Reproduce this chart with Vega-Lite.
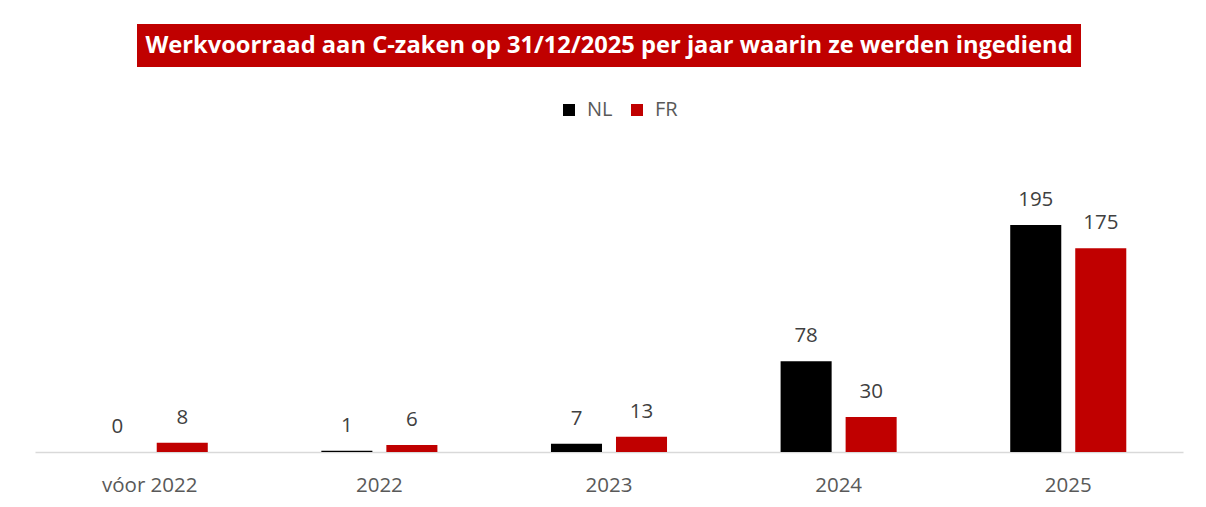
{
  "$schema": "https://vega.github.io/schema/vega-lite/v6.json",
  "background": "white",
  "padding": {"left": 35, "top": 24, "right": 20, "bottom": 0},
  "config": {"view": {"stroke": null}, "font": "Open Sans"},
  "center": true,
  "spacing": 33,
  "resolve": {"legend": {"color": "independent"}},
  "vconcat": [
    {
      "width": 944,
      "height": 43,
      "view": {"fill": "#C00000", "stroke": null},
      "data": {"values": [{"titel": "Werkvoorraad aan C-zaken op 31/12/2025 per jaar waarin ze werden ingediend"}]},
      "mark": {"type": "text", "color": "white", "fontWeight": "bold", "fontSize": 23.7, "font": "Open Sans", "align": "center", "baseline": "middle"},
      "encoding": {
        "text": {"field": "titel"},
        "x": {"datum": 0.5, "type": "quantitative", "scale": {"domain": [0, 1]}, "axis": null},
        "y": {"datum": 0.5, "type": "quantitative", "scale": {"domain": [0, 1]}, "axis": null}
      }
    },
    {
      "width": 1148,
      "height": 326,
      "data": {"values": [
        {"jaar": "vóor 2022", "taal": "NL", "aantal": 0},
        {"jaar": "vóor 2022", "taal": "FR", "aantal": 8},
        {"jaar": "2022", "taal": "NL", "aantal": 1},
        {"jaar": "2022", "taal": "FR", "aantal": 6},
        {"jaar": "2023", "taal": "NL", "aantal": 7},
        {"jaar": "2023", "taal": "FR", "aantal": 13},
        {"jaar": "2024", "taal": "NL", "aantal": 78},
        {"jaar": "2024", "taal": "FR", "aantal": 30},
        {"jaar": "2025", "taal": "NL", "aantal": 195},
        {"jaar": "2025", "taal": "FR", "aantal": 175}
      ]},
      "encoding": {
        "x": {
          "field": "jaar", "type": "nominal",
          "sort": ["vóor 2022", "2022", "2023", "2024", "2025"],
          "scale": {"paddingInner": 0.4946, "paddingOuter": 0.247},
          "title": null,
          "axis": {"labelAngle": 0, "ticks": false, "domainColor": "#d9d9d9", "domainWidth": 1.5, "labelFontSize": 20.5, "labelColor": "#595959", "labelPadding": 23, "labelFont": "Open Sans"}
        },
        "xOffset": {"field": "taal", "sort": ["NL", "FR"], "scale": {"paddingInner": 0.215, "paddingOuter": 0}},
        "y": {"field": "aantal", "type": "quantitative", "scale": {"domain": [0, 280]}, "axis": null}
      },
      "layer": [
        {
          "mark": {"type": "bar"},
          "encoding": {
            "color": {
              "field": "taal", "type": "nominal",
              "scale": {"domain": ["NL", "FR"], "range": ["#000000", "#C00000"]},
              "legend": {"orient": "none", "legendX": 524, "legendY": -26, "direction": "horizontal", "title": null, "symbolType": "square", "symbolSize": 144, "symbolStrokeWidth": 0, "labelFontSize": 20, "labelColor": "#595959", "labelOffset": 8, "columnPadding": 14, "labelFont": "Open Sans"}
            }
          }
        },
        {
          "mark": {"type": "text", "baseline": "bottom", "dy": -15, "fontSize": 20.5, "color": "#404040", "font": "Open Sans"},
          "encoding": {"text": {"field": "aantal", "type": "quantitative"}}
        }
      ]
    }
  ]
}
